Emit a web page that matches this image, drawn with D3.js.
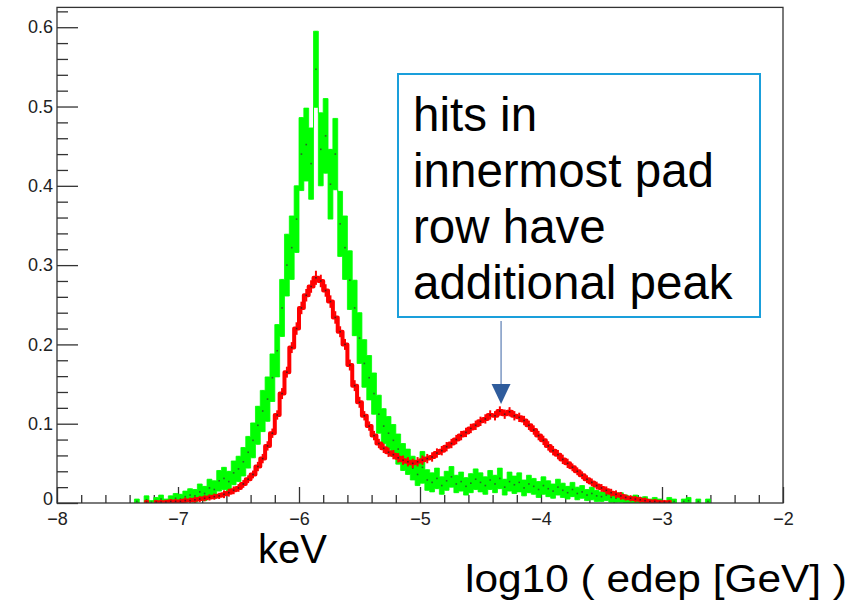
<!DOCTYPE html>
<html>
<head>
<meta charset="utf-8">
<script src="https://cdn.jsdelivr.net/npm/d3@7"></script>
<style>
  html, body { margin: 0; padding: 0; background: #fff; }
  svg { display: block; font-family: "Liberation Sans", Arial, Helvetica, sans-serif; }
</style>
</head>
<body>
<svg id="chart" width="856" height="603"></svg>
<script>
// histogram binning: 120 bins of 0.04 starting at log10(edep) = -7.4
var binLow = -7.4;
var binWidth = 0.04;

// innermost pad row (green), normalised bin content and error
var innerValues = [
  0,.002,0,.004,.001,.003,.005,.002,.004,.006,
  .005,.008,.010,.009,.014,.012,.019,.017,.028,.031,
  .027,.038,.043,.052,.064,.079,.098,.116,.131,.158,
  .192,.246,.300,.322,.358,.440,.452,.428,.547,.446,
  .463,.402,.440,.352,.322,.281,.246,.208,.176,.158,
  .138,.112,.097,.088,.079,.068,.058,.052,.044,.036,
  .045,.029,.026,.031,.022,.028,.033,.024,.027,.021,
  .025,.030,.026,.022,.029,.024,.031,.020,.027,.023,
  .026,.019,.024,.021,.017,.022,.018,.015,.020,.016,
  .013,.017,.012,.014,.010,.012,.009,.008,.010,.007,
  .006,.007,.005,.004,.005,.003,.004,.002,.003,.002,
  0,.003,.002,0,.002,.003,0,.002,0,.002
];
var innerErrors = [
  0,.003,0,.005,.002,.004,.005,.003,.005,.006,
  .006,.007,.008,.008,.010,.009,.011,.011,.013,.014,
  .013,.015,.016,.018,.020,.022,.024,.026,.028,.030,
  .033,.036,.039,.040,.042,.046,.046,.045,.048,.046,
  .047,.044,.045,.041,.040,.037,.035,.032,.030,.028,
  .026,.024,.022,.021,.020,.019,.017,.016,.015,.014,
  .020,.013,.012,.013,.011,.012,.013,.011,.012,.011,
  .012,.013,.012,.011,.012,.011,.013,.010,.012,.011,
  .012,.010,.011,.010,.010,.011,.010,.009,.010,.009,
  .008,.009,.008,.008,.007,.008,.007,.006,.007,.006,
  .005,.006,.005,.004,.005,.004,.004,.003,.004,.003,
  0,.004,.003,0,.003,.004,0,.003,0,.003
];

// all pad rows (red)
var allValues = [
  0,0,0,.001,0,.001,.001,.001,.002,.002,
  .002,.003,.003,.004,.005,.006,.007,.008,.009,.011,
  .013,.016,.019,.024,.030,.036,.046,.056,.072,.088,
  .111,.138,.165,.196,.220,.246,.262,.273,.284,.280,
  .268,.254,.234,.216,.200,.174,.148,.127,.110,.097,
  .085,.075,.069,.064,.061,.057,.054,.052,.050,.052,
  .054,.056,.058,.063,.066,.071,.075,.080,.085,.089,
  .094,.098,.103,.106,.111,.110,.116,.112,.115,.110,
  .108,.104,.098,.092,.085,.079,.072,.066,.061,.055,
  .050,.045,.040,.035,.030,.026,.022,.019,.016,.013,
  .011,.009,.007,.006,.005,.004,.003,.002,.002,.001,
  .001,.001,0,0,0,0,0,0,0,0
];
var allErrors = [
  0,0,0,.001,0,.001,.001,.001,.001,.001,
  .001,.002,.002,.002,.002,.002,.002,.002,.002,.003,
  .003,.003,.003,.003,.003,.003,.004,.004,.004,.004,
  .004,.005,.005,.005,.006,.006,.006,.006,.007,.006,
  .006,.006,.006,.005,.005,.005,.005,.005,.004,.004,
  .004,.004,.004,.004,.004,.004,.004,.004,.004,.004,
  .004,.004,.004,.004,.004,.004,.004,.004,.004,.004,
  .004,.004,.004,.004,.004,.004,.004,.004,.004,.004,
  .004,.004,.004,.004,.004,.004,.004,.004,.004,.004,
  .004,.003,.003,.003,.003,.003,.003,.003,.003,.003,
  .003,.003,.002,.002,.002,.002,.002,.001,.001,.001,
  .001,.001,0,0,0,0,0,0,0,0
];

var xTickValues = [-8, -7, -6, -5, -4, -3, -2];
var xTickLabels = ["\u22128", "\u22127", "\u22126", "\u22125", "\u22124", "\u22123", "\u22122"];
var yTickValues = [0, 0.1, 0.2, 0.3, 0.4, 0.5, 0.6];
var yTickLabels = ["0", "0.1", "0.2", "0.3", "0.4", "0.5", "0.6"];

var xAxisTitle = "log10 ( edep [GeV] )";
var unitLabel = "keV";
var noteLines = ["hits in", "innermost pad", "row have", "additional peak"];
var notePoint = { x: -4.33, y: 0.125 };

var frame = { left: 57, right: 783, top: 7.4, bottom: 503 };

var svg = d3.select('#chart');

var x = d3.scaleLinear().domain([-8, -2]).range([frame.left, frame.right]);
var y = d3.scaleLinear().domain([0, 0.625]).range([frame.bottom, frame.top]);

// ---- axes (ROOT style: ticks point into the frame) ----
var xMinor = d3.range(-8, -2.0001, 0.2).filter(function (v) { return Math.abs(v - Math.round(v)) > 1e-6; });
var yMinor = d3.range(0, 0.6201, 0.02).filter(function (v) { return Math.abs(v * 10 - Math.round(v * 10)) > 1e-6; });

function styleAxis(g) {
	g.selectAll('path.domain').remove();
	g.selectAll('line').attr('stroke', '#333').attr('stroke-width', 1.3);
	g.selectAll('text').attr('fill', '#222').style('font-size', '18px');
}

svg.append('g')
	.attr('transform', 'translate(0,' + frame.bottom + ')')
	.call(d3.axisBottom(x).tickValues(xMinor).tickSize(-8).tickFormat(''))
	.call(styleAxis);

svg.append('g')
	.attr('transform', 'translate(0,' + frame.bottom + ')')
	.call(d3.axisBottom(x).tickValues(xTickValues).tickSize(-16).tickSizeOuter(0).tickPadding(9)
		.tickFormat(function (d, i) { return xTickLabels[i]; }))
	.call(styleAxis);

svg.append('g')
	.attr('transform', 'translate(' + frame.left + ',0)')
	.call(d3.axisLeft(y).tickValues(yMinor).tickSize(-11).tickFormat(''))
	.call(styleAxis);

var yAxisG = svg.append('g')
	.attr('transform', 'translate(' + frame.left + ',0)')
	.call(d3.axisLeft(y).tickValues(yTickValues).tickSize(-21).tickSizeOuter(0).tickPadding(4)
		.tickFormat(function (d, i) { return yTickLabels[i]; }))
	.call(styleAxis);

// the "0" sits a touch higher than the others so it clears the -8 below it
yAxisG.selectAll('.tick text').filter(function (d) { return d === 0; }).attr('dy', '0.1em');

// ---- histograms ----
svg.append('clipPath').attr('id', 'plotclip').append('rect')
	.attr('x', frame.left).attr('y', frame.top)
	.attr('width', frame.right - frame.left).attr('height', frame.bottom - frame.top);

function toBins(values, errors) {
	return values.map(function (v, i) {
		return { lo: binLow + i * binWidth, hi: binLow + (i + 1) * binWidth,
			c: binLow + (i + 0.5) * binWidth, v: v, e: errors[i] };
	});
}

// two points per bin (low edge, high edge) so a plain linear path draws steps
function stepPoints(bins) {
	var pts = [];
	bins.forEach(function (d) {
		pts.push({ x: d.lo, d: d });
		pts.push({ x: d.hi, d: d });
	});
	return pts;
}

function drawInner(bins) {
	var g = svg.append('g').attr('clip-path', 'url(#plotclip)');
	var band = d3.area()
		.defined(function (p) { return p.d.v > 0; })
		.x(function (p) { return x(p.x); })
		.y0(function (p) { return y(Math.max(0, p.d.v - p.d.e)); })
		.y1(function (p) { return y(p.d.v + p.d.e); });
	g.append('path')
		.datum(stepPoints(bins))
		.attr('d', band)
		.attr('fill', '#00ff00')
		.attr('stroke', '#00ff00').attr('stroke-width', 0.8);

	var shown = bins.filter(function (d) { return d.v > 0; });
	g.selectAll('line.err').data(shown).enter().append('line')
		.attr('class', 'err')
		.attr('x1', function (d) { return x(d.c); })
		.attr('x2', function (d) { return x(d.c); })
		.attr('y1', function (d) { return y(Math.max(0, d.v - d.e)); })
		.attr('y2', function (d) { return y(d.v + d.e); })
		.attr('stroke', '#00ff00').attr('stroke-width', 2);
	g.selectAll('rect.mk').data(shown).enter().append('rect')
		.attr('class', 'mk')
		.attr('x', function (d) { return x(d.c) - 0.8; })
		.attr('y', function (d) { return y(d.v) - 0.8; })
		.attr('width', 1.6).attr('height', 1.6)
		.attr('fill', '#333').attr('opacity', 0.75);
}

function drawAll(bins) {
	var g = svg.append('g').attr('clip-path', 'url(#plotclip)');
	var trace = d3.line()
		.defined(function (p) { return p.d.v > 0; })
		.x(function (p) { return x(p.x); })
		.y(function (p) { return y(p.d.v); });
	g.append('path')
		.datum(stepPoints(bins))
		.attr('d', trace)
		.attr('fill', 'none')
		.attr('stroke', '#ff0000').attr('stroke-width', 4)
		.attr('stroke-linejoin', 'round');

	var shown = bins.filter(function (d) { return d.v > 0; });
	g.selectAll('line.err').data(shown).enter().append('line')
		.attr('class', 'err')
		.attr('x1', function (d) { return x(d.c); })
		.attr('x2', function (d) { return x(d.c); })
		.attr('y1', function (d) { return y(Math.max(0, d.v - d.e)) + 1.5; })
		.attr('y2', function (d) { return y(d.v + d.e) - 1.5; })
		.attr('stroke', '#ff0000').attr('stroke-width', 2);
	g.selectAll('rect.mk').data(shown).enter().append('rect')
		.attr('class', 'mk')
		.attr('x', function (d) { return x(d.c) - 0.8; })
		.attr('y', function (d) { return y(d.v) - 0.8; })
		.attr('width', 1.6).attr('height', 1.6)
		.attr('fill', '#222').attr('opacity', 0.8);
}

drawInner(toBins(innerValues, innerErrors));
drawAll(toBins(allValues, allErrors));

// frame drawn last so it sits above the marks
svg.append('rect')
	.attr('x', frame.left).attr('y', frame.top)
	.attr('width', frame.right - frame.left).attr('height', frame.bottom - frame.top)
	.attr('fill', 'none').attr('stroke', '#333').attr('stroke-width', 1.3);

// ---- titles ----
svg.append('text')
	.attr('x', 258).attr('y', 563)
	.style('font-size', '40px').attr('fill', '#000')
	.text(unitLabel);

svg.append('text')
	.attr('x', 465).attr('y', 592)
	.attr('textLength', 382).attr('lengthAdjust', 'spacingAndGlyphs')
	.style('font-size', '38px').attr('fill', '#000')
	.text(xAxisTitle);

// ---- annotation box with arrow to the second peak ----
var note = svg.append('g');
note.append('rect')
	.attr('x', 398).attr('y', 74).attr('width', 362).attr('height', 243)
	.attr('fill', '#fff').attr('stroke', '#1a9fdb').attr('stroke-width', 2);
note.selectAll('text').data(noteLines).enter().append('text')
	.attr('x', 413)
	.attr('y', function (d, i) { return 131 + i * 56; })
	.style('font-size', '47.5px').attr('fill', '#000')
	.text(function (d) { return d; });

var ax = x(notePoint.x), ay = y(notePoint.y);
note.append('line')
	.attr('x1', ax).attr('x2', ax).attr('y1', 321).attr('y2', ay - 18)
	.attr('stroke', '#5b7db3').attr('stroke-width', 1.2);
note.append('path')
	.attr('d', 'M' + (ax - 9.5) + ',' + (ay - 20) + 'L' + (ax + 9.5) + ',' + (ay - 20) + 'L' + ax + ',' + ay + 'Z')
	.attr('fill', '#2f5c9c');
</script>
</body>
</html>
